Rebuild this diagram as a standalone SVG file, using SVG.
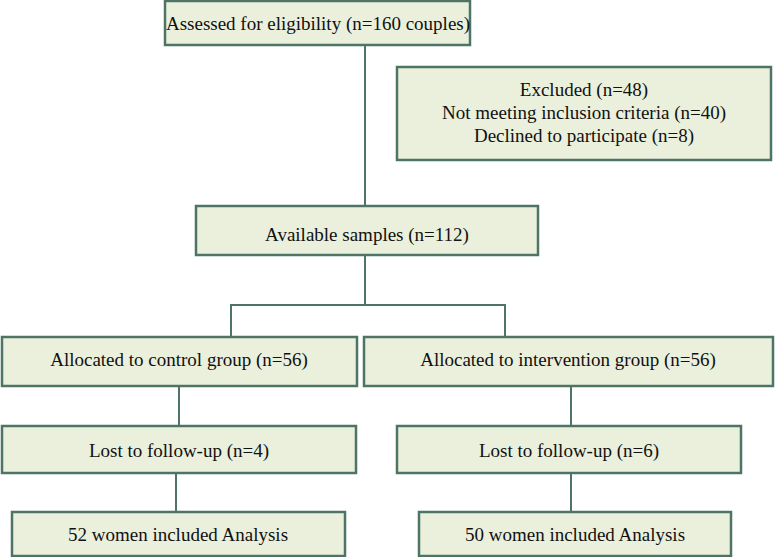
<svg xmlns="http://www.w3.org/2000/svg" width="779" height="557" viewBox="0 0 779 557">
<style>
.b{fill:#ebf0dc;stroke:#4e7466;stroke-width:2.5}
.t{font-family:'Liberation Serif','Times New Roman','DejaVu Serif',serif;font-size:19px;fill:#111;text-anchor:middle}
.c{fill:none;stroke:#4e7466;stroke-width:2}
</style>
<rect width="779" height="557" fill="#fff"/>
<g id="connectors">
<path class="c" d="M365 46V206M365 256V305M231 337V305H505V337M179 387V426M571 387V426M176 474V512M571 474V512"/>
</g>
<g id="assessed"><rect class="b" x="165" y="1" width="305" height="44"/><text class="t" x="318" y="30">Assessed for eligibility (n=160 couples)</text></g>
<g id="excluded"><rect class="b" x="397" y="67" width="374" height="93"/>
<text class="t" x="584" y="96">Excluded (n=48)</text>
<text class="t" x="584" y="119">Not meeting inclusion criteria (n=40)</text>
<text class="t" x="584" y="142">Declined to participate (n=8)</text></g>
<g id="available"><rect class="b" x="196" y="206" width="342" height="49"/><text class="t" x="367" y="241">Available samples (n=112)</text></g>
<g id="control"><rect class="b" x="2" y="337" width="355" height="49"/><text class="t" x="179" y="366">Allocated to control group (n=56)</text></g>
<g id="intervention"><rect class="b" x="364" y="337" width="409" height="49"/><text class="t" x="568" y="366">Allocated to intervention group (n=56)</text></g>
<g id="lost1"><rect class="b" x="2" y="426" width="354" height="47"/><text class="t" x="179" y="457">Lost to follow-up (n=4)</text></g>
<g id="lost2"><rect class="b" x="397" y="426" width="344" height="47"/><text class="t" x="569" y="457">Lost to follow-up (n=6)</text></g>
<g id="women52"><rect class="b" x="12" y="512" width="333" height="44"/><text class="t" x="178" y="541">52 women included Analysis</text></g>
<g id="women50"><rect class="b" x="419" y="512" width="312" height="44"/><text class="t" x="575" y="541">50 women included Analysis</text></g>
</svg>
